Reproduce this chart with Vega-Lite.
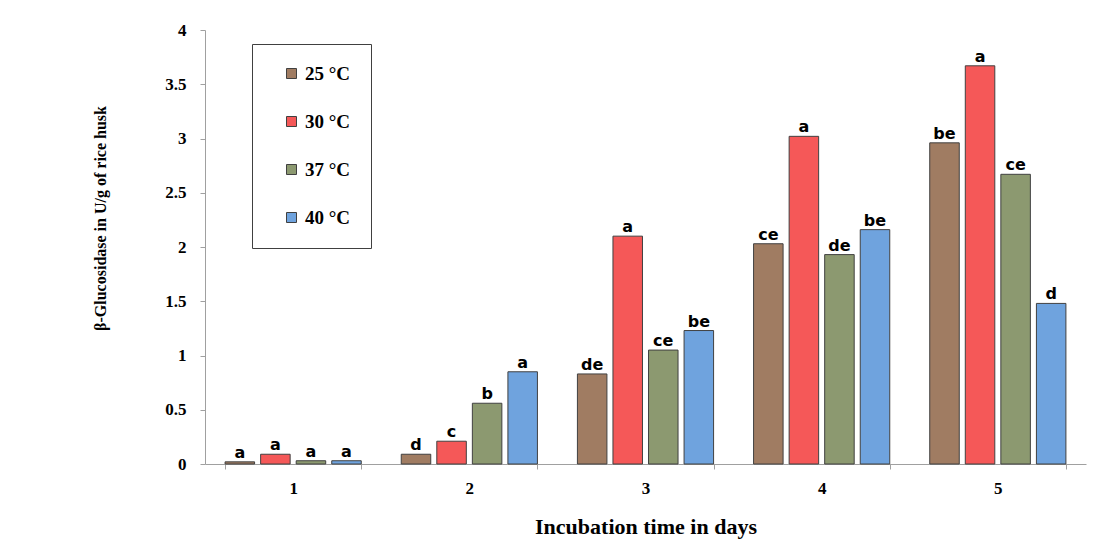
{
  "$schema": "https://vega.github.io/schema/vega-lite/v6.json",
  "width": 881,
  "height": 434,
  "autosize": {"type": "none"},
  "padding": {"left": 205, "top": 30, "right": 7, "bottom": 86},
  "background": "white",
  "data": {
    "values": [
      {"day": "1", "temp": "25 °C", "value": 0.02, "sig": "a"},
      {"day": "1", "temp": "30 °C", "value": 0.09, "sig": "a"},
      {"day": "1", "temp": "37 °C", "value": 0.03, "sig": "a"},
      {"day": "1", "temp": "40 °C", "value": 0.03, "sig": "a"},
      {"day": "2", "temp": "25 °C", "value": 0.09, "sig": "d"},
      {"day": "2", "temp": "30 °C", "value": 0.21, "sig": "c"},
      {"day": "2", "temp": "37 °C", "value": 0.56, "sig": "b"},
      {"day": "2", "temp": "40 °C", "value": 0.85, "sig": "a"},
      {"day": "3", "temp": "25 °C", "value": 0.83, "sig": "de"},
      {"day": "3", "temp": "30 °C", "value": 2.10, "sig": "a"},
      {"day": "3", "temp": "37 °C", "value": 1.05, "sig": "ce"},
      {"day": "3", "temp": "40 °C", "value": 1.23, "sig": "be"},
      {"day": "4", "temp": "25 °C", "value": 2.03, "sig": "ce"},
      {"day": "4", "temp": "30 °C", "value": 3.02, "sig": "a"},
      {"day": "4", "temp": "37 °C", "value": 1.93, "sig": "de"},
      {"day": "4", "temp": "40 °C", "value": 2.16, "sig": "be"},
      {"day": "5", "temp": "25 °C", "value": 2.96, "sig": "be"},
      {"day": "5", "temp": "30 °C", "value": 3.67, "sig": "a"},
      {"day": "5", "temp": "37 °C", "value": 2.67, "sig": "ce"},
      {"day": "5", "temp": "40 °C", "value": 1.48, "sig": "d"}
    ]
  },
  "encoding": {
    "x": {
      "field": "day",
      "type": "ordinal",
      "scale": {"paddingInner": 0.227, "paddingOuter": 0.114},
      "axis": {
        "title": "Incubation time in days",
        "labelAngle": 0,
        "labelFont": "Liberation Serif",
        "labelFontWeight": "bold",
        "labelFontSize": 17,
        "labelColor": "#000",
        "labelPadding": 11,
        "tickBand": "extent",
        "tickColor": "#a0a0a0",
        "tickSize": 5,
        "domainColor": "#a0a0a0",
        "titleFont": "Liberation Serif",
        "titleFontWeight": "bold",
        "titleFontSize": 22,
        "titleColor": "#000",
        "titlePadding": 20
      }
    },
    "xOffset": {
      "field": "temp",
      "type": "nominal",
      "scale": {"paddingInner": 0.17, "paddingOuter": 0}
    },
    "y": {
      "field": "value",
      "type": "quantitative",
      "scale": {"domain": [0, 4], "nice": false},
      "axis": {
        "title": "β-Glucosidase in U/g of rice husk",
        "values": [0, 0.5, 1, 1.5, 2, 2.5, 3, 3.5, 4],
        "format": ".1~f",
        "grid": false,
        "labelFont": "Liberation Serif",
        "labelFontWeight": "bold",
        "labelFontSize": 17,
        "labelColor": "#000",
        "labelPadding": 14,
        "tickColor": "#a0a0a0",
        "tickSize": 5,
        "domainColor": "#a0a0a0",
        "titleFont": "Liberation Serif",
        "titleFontWeight": "bold",
        "titleFontSize": 16,
        "titleColor": "#000",
        "titlePadding": 56,
        "titleY": 188
      }
    }
  },
  "layer": [
    {
      "mark": {"type": "bar", "stroke": "#404040", "strokeWidth": 1},
      "encoding": {
        "color": {
          "field": "temp",
          "type": "nominal",
          "scale": {
            "domain": ["25 °C", "30 °C", "37 °C", "40 °C"],
            "range": ["#a07c62", "#f55858", "#8c9970", "#6fa3de"]
          },
          "legend": {
            "title": null,
            "orient": "none",
            "legendX": 47,
            "legendY": 14,
            "strokeColor": "#404040",
            "fillColor": "white",
            "padding": 20,
            "symbolOffset": 10,
            "symbolType": "square",
            "symbolSize": 100,
            "symbolStrokeColor": "#404040",
            "symbolStrokeWidth": 1,
            "labelFont": "Liberation Serif",
            "labelFontWeight": "bold",
            "labelFontSize": 19,
            "labelColor": "#000",
            "labelOffset": 4,
            "rowPadding": 28
          }
        }
      }
    },
    {
      "mark": {
        "type": "text",
        "baseline": "bottom",
        "dy": -1,
        "font": "DejaVu Sans",
        "fontWeight": "bold",
        "fontSize": 16,
        "color": "#000"
      },
      "encoding": {
        "text": {"field": "sig"}
      }
    }
  ],
  "config": {
    "view": {"stroke": null}
  }
}
